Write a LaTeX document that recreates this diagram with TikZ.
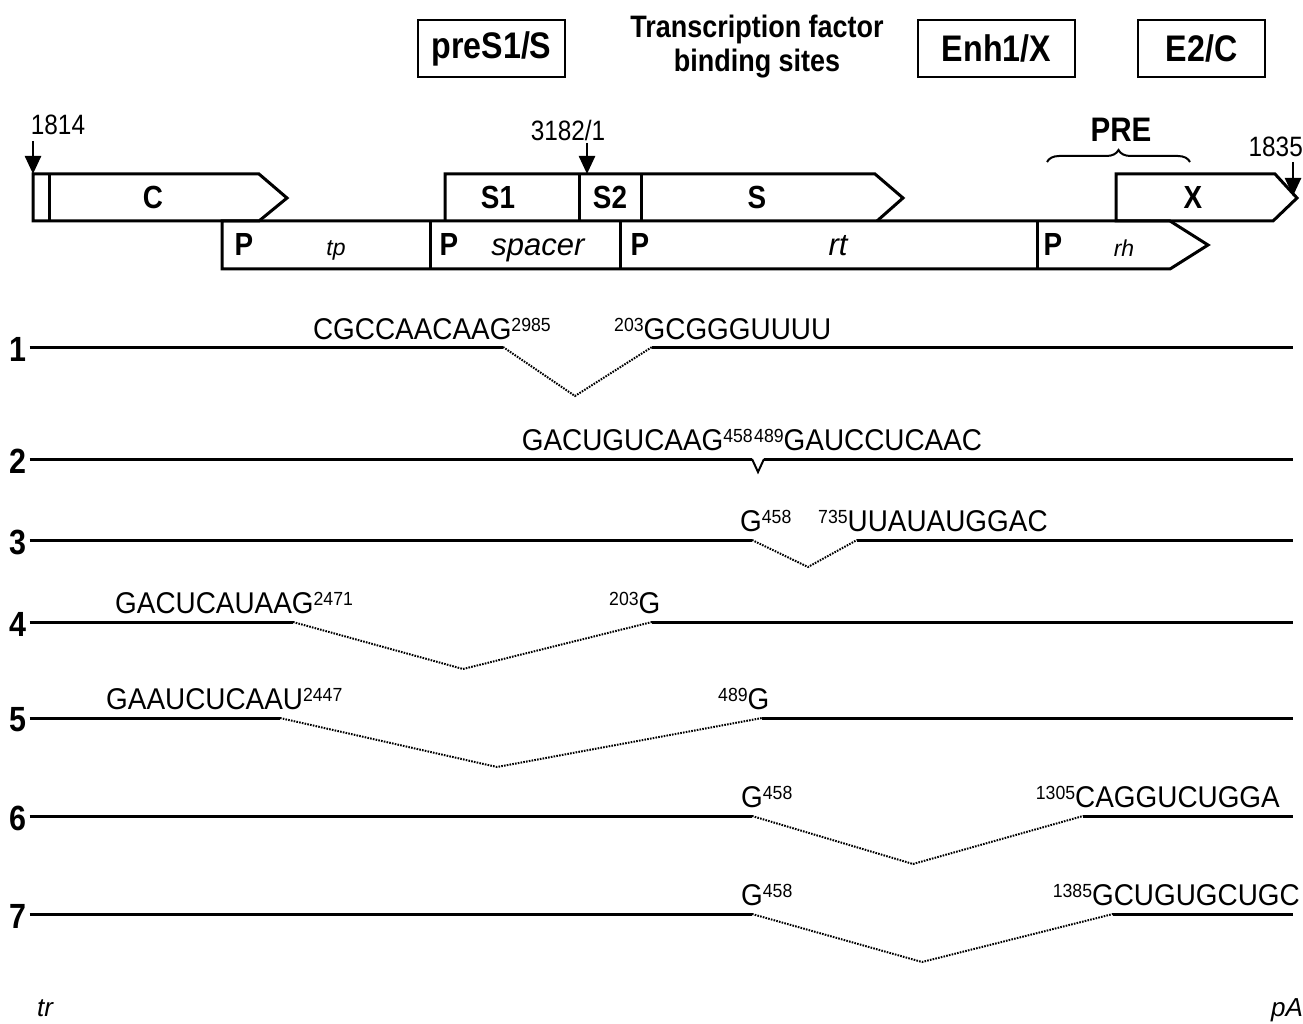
\documentclass[tikz,border=0pt]{standalone}
\usepackage{fontspec}
\setmainfont{Liberation Sans}[FakeStretch=0.87]
\newfontfamily\widefont{Liberation Sans}
\newfontfamily\seqfont{Liberation Sans}[FakeStretch=0.93]
\usetikzlibrary{arrows.meta,decorations.pathreplacing}
\newcommand\spn[1]{\raisebox{8pt}{\fontsize{19}{19}\selectfont #1}}
\begin{document}
\begin{tikzpicture}[x=1pt,y=-1pt,
  box/.style={line width=3pt,line join=miter},
  hbox/.style={draw,line width=2.5pt,inner sep=0,minimum height=57pt,font=\fontsize{37}{44}\selectfont\bfseries},
  glbl/.style={inner sep=0,anchor=base,font=\fontsize{32}{38}\selectfont\bfseries},
  ilbl/.style={inner sep=0,anchor=base,font=\widefont\fontsize{23}{28}\selectfont\itshape},
  iblbl/.style={inner sep=0,anchor=base,font=\widefont\fontsize{31}{36}\selectfont\itshape},
  poslbl/.style={inner sep=0,anchor=base,font=\fontsize{28}{32}\selectfont},
  seq/.style={inner sep=0,font=\seqfont\fontsize{30}{34}\selectfont},
  rown/.style={inner sep=0,font=\fontsize{35}{40}\selectfont\bfseries},
  exon/.style={line width=3pt},
  intron/.style={line width=2pt,dash pattern=on 1.6pt off 1.2pt},
  markarrow/.style={line width=2.5pt,-{Triangle[length=18pt,width=16pt]}},
]
\useasboundingbox (0,0) rectangle (1303,1024);
% header boxes
\node[hbox,minimum width=147pt] (hpre) at (491.5,48.5) {preS1/S};
\node[inner sep=0,align=center,font=\fontsize{31}{34}\selectfont\bfseries] (htf) at (757,47) {Transcription factor\\binding sites};
\node[hbox,minimum width=157pt] (henh) at (996.5,48.5) {Enh1/X};
\node[hbox,minimum width=127pt] (he2) at (1201.5,48.5) {E2/C};
% genome map: top row
\draw[box] (33,174) -- (259,174) -- (287,198) -- (259,221) -- (33,221) -- cycle;
\draw[box] (49,174) -- (49,221);
\draw[box] (445,221) -- (445,174) -- (875,174) -- (903,198) -- (877,221);
\draw[box] (579,174) -- (579,221);
\draw[box] (641,174) -- (641,221);
\draw[box] (1116,221) -- (1116,174) -- (1275,174) -- (1297,198) -- (1273,221) -- cycle;
% bottom row
\draw[box] (222,221) -- (1170,221) -- (1208,245) -- (1170,269) -- (222,269) -- cycle;
\draw[box] (430,221) -- (430,269);
\draw[box] (620,221) -- (620,269);
\draw[box] (1037,221) -- (1037,269);
% gene labels
\node[glbl] (gC) at (153,209) {C};
\node[glbl] (gS1) at (498,209) {S1};
\node[glbl] (gS2) at (610,209) {S2};
\node[glbl] (gS) at (757,209) {S};
\node[glbl] (gX) at (1193,209) {X};
\node[glbl] (p1) at (244,256) {P};
\node[glbl] (p2) at (449,256) {P};
\node[glbl] (p3) at (640,256) {P};
\node[glbl] (p4) at (1053,256) {P};
\node[ilbl] (ltp) at (336,256) {tp};
\node[iblbl] (lsp) at (538,256) {spacer};
\node[iblbl] (lrt) at (838,256) {rt};
\node[ilbl] (lrh) at (1124,257) {rh};
% position markers
\node[poslbl] (m1814) at (58,135) {1814};
\node[poslbl] (m3182) at (568,141) {3182/1};
\node[poslbl,anchor=base east] (m1835) at (1303,157) {1835};
\coordinate (t1814) at (33,174);
\coordinate (s1814) at (33,141);
\coordinate (t3182) at (587,174);
\coordinate (s3182) at (587,143);
\coordinate (t1835) at (1293,196);
\coordinate (s1835) at (1293,162);
\draw[markarrow] (s1814) -- (t1814);
\draw[markarrow] (s3182) -- (t3182);
\draw[markarrow] (s1835) -- (t1835);
% PRE
\coordinate (preL) at (1047,162);
\coordinate (preR) at (1190,162);
\draw[line width=2pt,decorate,decoration={brace,amplitude=12pt}] (preL) -- (preR);
\node[inner sep=0,anchor=base,font=\fontsize{34}{40}\selectfont\bfseries] (lpre) at (1121,142) {PRE};
% splice rows
\foreach \n/\y in {1/347,2/459,3/540,4/622,5/718,6/816,7/914}{
  \node[rown] (r\n) at (18,\y+2) {\n};
}
% row 1
\coordinate (a1) at (503,347); \coordinate (v1) at (575,396); \coordinate (b1) at (652,347); \coordinate (e1) at (1293,347);
\draw[exon] (r1.east) ++(3,-2) -- (a1);
\draw[intron] (a1) -- (v1) -- (b1);
\draw[exon] (b1) -- (e1);
\node[seq,anchor=base east] (s1a) at (551,339) {CGCCAACAAG\spn{2985}};
\node[seq,anchor=base west] (s1b) at (614,339) {\spn{203}GCGGGUUUU};
% row 2
\coordinate (a2) at (752,459); \coordinate (v2) at (758,472); \coordinate (b2) at (764,459); \coordinate (e2) at (1293,459);
\draw[exon] (r2.east) ++(3,-2) -- (a2);
\draw[line width=2pt] (a2) -- (v2) -- (b2);
\draw[exon] (b2) -- (e2);
\node[seq,anchor=base east] (s2a) at (753,450) {GACUGUCAAG\spn{458}};
\node[seq,anchor=base west] (s2b) at (754,450) {\spn{489}GAUCCUCAAC};
% row 3
\coordinate (a3) at (752,540); \coordinate (v3) at (808,567); \coordinate (b3) at (857,540); \coordinate (e3) at (1293,540);
\draw[exon] (r3.east) ++(3,-2) -- (a3);
\draw[intron] (a3) -- (v3) -- (b3);
\draw[exon] (b3) -- (e3);
\node[seq,anchor=base west] (s3a) at (740,531) {G\spn{458}};
\node[seq,anchor=base west] (s3b) at (818,531) {\spn{735}UUAUAUGGAC};
% row 4
\coordinate (a4) at (293,622); \coordinate (v4) at (463,669); \coordinate (b4) at (652,622); \coordinate (e4) at (1293,622);
\draw[exon] (r4.east) ++(3,-2) -- (a4);
\draw[intron] (a4) -- (v4) -- (b4);
\draw[exon] (b4) -- (e4);
\node[seq,anchor=base west] (s4a) at (115,613) {GACUCAUAAG\spn{2471}};
\node[seq,anchor=base west] (s4b) at (609,613) {\spn{203}G};
% row 5
\coordinate (a5) at (280,718); \coordinate (v5) at (497,767); \coordinate (b5) at (762,718); \coordinate (e5) at (1293,718);
\draw[exon] (r5.east) ++(3,-2) -- (a5);
\draw[intron] (a5) -- (v5) -- (b5);
\draw[exon] (b5) -- (e5);
\node[seq,anchor=base west] (s5a) at (106,709) {GAAUCUCAAU\spn{2447}};
\node[seq,anchor=base west] (s5b) at (718,709) {\spn{489}G};
% row 6
\coordinate (a6) at (752,816); \coordinate (v6) at (913,864); \coordinate (b6) at (1083,816); \coordinate (e6) at (1293,816);
\draw[exon] (r6.east) ++(3,-2) -- (a6);
\draw[intron] (a6) -- (v6) -- (b6);
\draw[exon] (b6) -- (e6);
\node[seq,anchor=base west] (s6a) at (741,807) {G\spn{458}};
\node[seq,anchor=base east] (s6b) at (1280,807) {\spn{1305}CAGGUCUGGA};
% row 7
\coordinate (a7) at (752,914); \coordinate (v7) at (922,962); \coordinate (b7) at (1113,914); \coordinate (e7) at (1293,914);
\draw[exon] (r7.east) ++(3,-2) -- (a7);
\draw[intron] (a7) -- (v7) -- (b7);
\draw[exon] (b7) -- (e7);
\node[seq,anchor=base west] (s7a) at (741,905) {G\spn{458}};
\node[seq,anchor=base east] (s7b) at (1300,905) {\spn{1385}GCUGUGCUGC};
% ends
\node[inner sep=0,anchor=base,font=\widefont\fontsize{26}{30}\selectfont\itshape] (ltr) at (45,1016) {tr};
\node[inner sep=0,anchor=base,font=\widefont\fontsize{26}{30}\selectfont\itshape] (lpa) at (1287,1016) {pA};
\end{tikzpicture}
\end{document}
